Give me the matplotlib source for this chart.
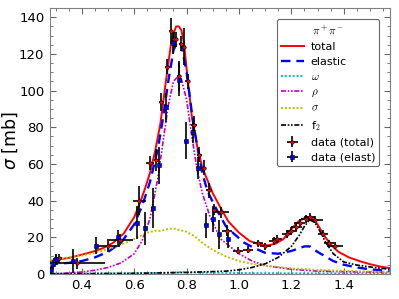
import matplotlib
matplotlib.use("Agg")
import matplotlib.pyplot as plt
import numpy as np

# ---- curves ----
x_total = [0.28,0.32,0.36,0.40,0.44,0.48,0.52,0.56,0.60,0.62,0.64,0.66,0.68,0.70,0.72,0.74,0.75,0.76,0.77,0.78,0.79,0.80,0.82,0.84,0.86,0.88,0.90,0.93,0.96,1.00,1.04,1.08,1.11,1.14,1.17,1.20,1.23,1.26,1.28,1.30,1.32,1.35,1.38,1.42,1.46,1.50,1.54,1.575]
y_total = [7,8,9,10.5,12,14,17,22,31,38,46,55,67,82,104,125,131,135,135,133,126,112,86,70,58,51,44,36,28.5,22.5,18,16,15.5,16.5,19,24.5,29,31,30.5,27,22,16,12,9,7,5.3,4,3.2]

x_el = [0.28,0.30,0.35,0.40,0.45,0.50,0.55,0.60,0.63,0.66,0.69,0.71,0.73,0.75,0.765,0.78,0.80,0.82,0.84,0.86,0.88,0.915,0.95,0.98,1.02,1.06,1.10,1.15,1.20,1.25,1.27,1.30,1.33,1.36,1.40,1.45,1.50,1.575]
y_el = [3,5.5,6,7,9,12,17,27,37,50,68,85,105,122,127,125,110,88,70,55,45,35,26,22,17,14,11.5,11,12.5,15,15,12,9.5,7,5,3.5,2.5,1.5]

x_om = [0.28,0.50,0.70,0.76,0.78,0.80,0.90,1.10,1.30,1.575]
y_om = [0.1,0.3,0.5,0.8,1.0,0.8,0.6,0.4,0.3,0.2]

x_rho = [0.28,0.35,0.40,0.45,0.50,0.55,0.60,0.63,0.66,0.69,0.71,0.73,0.75,0.775,0.80,0.82,0.84,0.86,0.89,0.93,1.00,1.05,1.10,1.20,1.30,1.40,1.575]
y_rho = [0,0.5,1,2,3.5,6,11,18,30,52,72,92,105,109,95,75,57,44,31,19,11,7,4.5,2.5,1.5,1.2,0.8]

x_sig = [0.28,0.33,0.40,0.45,0.50,0.55,0.60,0.65,0.68,0.70,0.73,0.75,0.77,0.80,0.83,0.86,0.90,0.95,1.00,1.05,1.10,1.20,1.30,1.40,1.50,1.575]
y_sig = [7.5,8.5,10,11.5,13.5,16,19,22.5,23.5,23.5,24.5,24.8,24,23,20.5,17,13,9.5,7,5.5,4.5,3,2.2,1.6,1.2,1]

x_f2 = [0.28,0.60,0.80,0.95,1.00,1.05,1.10,1.15,1.20,1.23,1.25,1.27,1.29,1.31,1.33,1.36,1.40,1.45,1.50,1.575]
y_f2 = [0,0.3,0.8,1.5,2.2,3.5,5.5,9,15,21,26,29.5,28,23,17.5,11,6.5,4.8,3.8,2.5]

# ---- data points ----
dt_x = [0.300,0.313,0.382,0.500,0.545,0.619,0.660,0.685,0.704,0.727,0.742,0.751,0.761,0.772,0.780,0.791,0.804,0.828,0.848,0.866,0.886,0.906,0.933,0.955,0.997,1.035,1.073,1.101,1.133,1.146,1.184,1.200,1.219,1.232,1.255,1.270,1.289,1.321,1.344,1.366]
dt_y = [8.0,8.5,5.7,15.0,18.5,40,60.5,62,93.7,113,132.5,128,128,108,125.6,124,105,81.3,65,58,45.6,35,33.7,23.4,12.6,13.2,16.6,15,18,19,21.8,23.6,25.4,28,30,31,29.6,22,16.6,15.4]
dt_xe = [0.01,0.01,0.105,0.045,0.05,0.025,0.015,0.01,0.01,0.01,0.008,0.008,0.008,0.008,0.008,0.008,0.01,0.01,0.01,0.01,0.01,0.01,0.03,0.02,0.02,0.02,0.02,0.02,0.02,0.02,0.02,0.02,0.02,0.02,0.02,0.02,0.03,0.02,0.02,0.03]
dt_ye = [2.5,2.5,3,3,3,8,4,6,5,4,7,4,4,8,4,10,4,5,4,4,4,3,3,3,2,2,2,2,2,2,2,2,2,2,2,2,2,2,2,2]

de_x = [0.281,0.291,0.303,0.367,0.456,0.539,0.609,0.643,0.670,0.695,0.720,0.749,0.772,0.797,0.823,0.844,0.873,0.899,0.924,0.958]
de_y = [2,5.3,8,7.1,15.4,20,28,25,36,59.3,90.8,126,106,72.7,77.6,58,26.4,30,21.5,19.3]
de_xe = [0.003,0.003,0.004,0.005,0.005,0.005,0.005,0.005,0.005,0.005,0.005,0.005,0.005,0.005,0.005,0.005,0.005,0.005,0.005,0.005]
de_ye = [2,2.5,3,6.5,4.5,4,9,9,11,10,8,6,9,10,6,6,7,7,8,5]

fig = plt.figure(figsize=(3.99, 2.99), dpi=100)
ax = fig.add_axes([0.125, 0.084, 0.852, 0.889])

ax.plot(x_total, y_total, color='red', lw=1.4, label='total', zorder=3)
ax.plot(x_el, y_el, color='blue', lw=1.7, ls=(0, (4, 2.5)), label='elastic', zorder=3)
ax.plot(x_om, y_om, color='c', lw=1.4, ls=(0, (1, 1)), label=r'$\omega$', zorder=3)
ax.plot(x_rho, y_rho, color='m', lw=1.2, ls=(0, (3, 1, 1, 1, 1, 1)), label=r'$\rho$', zorder=3)
ax.plot(x_sig, y_sig, color='y', lw=1.4, ls=(0, (1, 1)), label=r'$\sigma$', zorder=3)
ax.plot(x_f2, y_f2, color='k', lw=1.2, ls=(0, (3, 1, 1, 1, 1, 1)), label=r'f$_2$', zorder=3)

ax.errorbar(dt_x, dt_y, xerr=dt_xe, yerr=dt_ye, fmt='o', ms=2.5, mfc='red', mec='k',
            mew=0.4, ecolor='k', elinewidth=1.2, capsize=0, label='data (total)', zorder=4)
ax.errorbar(de_x, de_y, xerr=de_xe, yerr=de_ye, fmt='s', ms=2.5, mfc='blue', mec='k',
            mew=0.4, ecolor='k', elinewidth=1.2, capsize=0, label='data (elast)', zorder=4)

ax.set_xlim(0.278, 1.576)
ax.set_ylim(0, 145)
ax.set_xticks([0.4, 0.6, 0.8, 1.0, 1.2, 1.4])
ax.set_yticks([0, 20, 40, 60, 80, 100, 120, 140])
ax.minorticks_on()
ax.tick_params(which='both', direction='in', top=True, right=True, labelsize=9.5, color='0.4')
ax.tick_params(which='major', length=4, pad=4)
ax.tick_params(which='minor', length=2)
for s in ax.spines.values():
    s.set_color('0.5')
ax.set_ylabel(r'$\sigma$ [mb]', fontsize=12.5)
ax.yaxis.set_label_coords(-0.088, 0.5)

leg = ax.legend(loc='upper right', title=r'$\pi^+\pi^-$', fontsize=8, title_fontsize=8,
                handlelength=2.1, labelspacing=0.45, borderpad=0.35, handletextpad=0.6,
                framealpha=1, edgecolor='0.4', fancybox=True,
                bbox_to_anchor=(0.985, 0.98))
leg.get_frame().set_linewidth(0.8)
for t in leg.get_texts():
    t.set_math_fontfamily('cm')
leg.get_title().set_math_fontfamily('cm')

fig.savefig('out.png', dpi=100)
